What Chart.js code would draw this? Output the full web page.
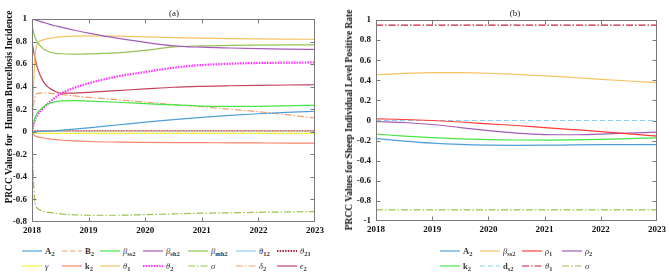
<!DOCTYPE html>
<html><head><meta charset="utf-8">
<script src="https://cdn.jsdelivr.net/npm/chart.js@4.4.1/dist/chart.umd.min.js"></script>
<style>
html,body{margin:0;padding:0;background:#fff;width:669px;height:272px;overflow:hidden;}
#wrap{position:relative;width:669px;height:272px;font-family:"Liberation Serif","Times New Roman",serif;}
canvas{position:absolute;top:0;}
#ca{left:0;} #cb{left:334px;}
.ytitle{position:absolute;font-weight:bold;font-size:9.5px;white-space:nowrap;transform:translate(-50%,-50%) rotate(-90deg);color:#111;}
.ptitle{position:absolute;font-size:9px;transform:translateX(-50%);color:#222;}
.legend{position:absolute;display:grid;row-gap:1px;font-size:8.5px;font-weight:bold;color:#333;}
.item{display:flex;align-items:center;height:14px;white-space:nowrap;}
.item svg{margin-right:3px;}
.item i{font-weight:normal;}
sub{font-size:6.5px;vertical-align:-2px;line-height:0;}
</style></head>
<body>
<div id="wrap">
  <canvas id="ca" width="334" height="240"></canvas>
  <canvas id="cb" width="335" height="240"></canvas>
  <div class="ptitle" style="left:174px;top:8px;">(a)</div>
  <div class="ptitle" style="left:515px;top:8px;">(b)</div>
  <div class="ytitle" style="left:9px;top:107px;">PRCC Values for&nbsp; Human Brucellosis Incidence</div>
  <div class="ytitle" style="left:349px;top:120px;">PRCC Values for Sheep Individual Level Positive Rate</div>
  <div class="legend" id="legA" style="left:22px;top:244px;grid-template-columns:40px 38px 43px 45px 48px 41px auto;"></div>
  <div class="legend" id="legB" style="left:440px;top:244px;grid-template-columns:40px 42px 40px auto;"></div>
</div>
<script>
// ---------- Panel (a) data ----------
const yearsA = [2018, 2018.02, 2018.05, 2018.1, 2018.2, 2018.3, 2018.4, 2018.5, 2018.75, 2019, 2019.5, 2020, 2020.5, 2021, 2021.5, 2022, 2022.5, 2023];
const A2_a   = [0, 0, 0, 0.002, 0.004, 0.006, 0.009, 0.013, 0.023, 0.035, 0.06, 0.085, 0.107, 0.127, 0.145, 0.16, 0.172, 0.182];
const B2_a   = [0, 0.004, 0.006, 0.006, 0.006, 0.006, 0.006, 0.006, 0.006, 0.006, 0.006, 0.006, 0.006, 0.006, 0.006, 0.006, 0.006, 0.006];
const bss2_a = [0, 0.06, 0.12, 0.17, 0.22, 0.25, 0.265, 0.272, 0.276, 0.272, 0.262, 0.25, 0.238, 0.228, 0.225, 0.226, 0.23, 0.235];
const bsh2_a = [1, 0.997, 0.993, 0.985, 0.97, 0.955, 0.94, 0.93, 0.9, 0.875, 0.83, 0.793, 0.762, 0.75, 0.743, 0.737, 0.733, 0.73];
const bmh2_a = [0.95, 0.9, 0.84, 0.79, 0.735, 0.71, 0.698, 0.692, 0.688, 0.69, 0.7, 0.722, 0.752, 0.762, 0.767, 0.769, 0.77, 0.77];
const th12_a = [0, 0.003, 0.003, 0.003, 0.003, 0.003, 0.003, 0.003, 0.003, 0.003, 0.003, 0.003, 0.003, 0.003, 0.003, 0.003, 0.003, 0.003];
const th21_a = [0, 0.008, 0.008, 0.008, 0.008, 0.008, 0.008, 0.008, 0.008, 0.008, 0.008, 0.008, 0.008, 0.008, 0.008, 0.008, 0.008, 0.008];
const gam_a  = [0, -0.012, -0.014, -0.015, -0.015, -0.015, -0.015, -0.015, -0.015, -0.015, -0.015, -0.015, -0.015, -0.015, -0.015, -0.015, -0.015, -0.015];
const k2_a   = [0, -0.02, -0.035, -0.045, -0.055, -0.063, -0.068, -0.073, -0.081, -0.086, -0.091, -0.094, -0.096, -0.097, -0.098, -0.099, -0.1, -0.1];
const th1_a  = [0, 0.3, 0.65, 0.78, 0.815, 0.828, 0.836, 0.842, 0.848, 0.85, 0.848, 0.842, 0.835, 0.83, 0.826, 0.823, 0.821, 0.82];
const th2_a  = [0, 0.05, 0.1, 0.15, 0.21, 0.26, 0.3, 0.335, 0.39, 0.43, 0.49, 0.53, 0.568, 0.592, 0.603, 0.61, 0.613, 0.615];
const sig_a  = [0, -0.35, -0.62, -0.68, -0.705, -0.715, -0.722, -0.728, -0.736, -0.74, -0.74, -0.735, -0.728, -0.722, -0.718, -0.714, -0.711, -0.708];
const del2_a = [0, 0.2, 0.3, 0.34, 0.345, 0.342, 0.337, 0.332, 0.318, 0.305, 0.285, 0.262, 0.242, 0.222, 0.2, 0.178, 0.152, 0.122];
const eps2_a = [0.8, 0.74, 0.66, 0.56, 0.445, 0.39, 0.36, 0.343, 0.343, 0.35, 0.365, 0.38, 0.395, 0.403, 0.408, 0.412, 0.415, 0.417];
const xTicks = [2018, 2019, 2020, 2021, 2022, 2023];
const yTicksA = [-0.8, -0.6, -0.4, -0.2, 0, 0.2, 0.4, 0.6, 0.8, 1];

// ---------- Panel (b) data ----------
const yearsB = [2018, 2018.5, 2019, 2019.5, 2020, 2020.5, 2021, 2021.5, 2022, 2022.5, 2023];
const A2_b   = [-0.18, -0.205, -0.225, -0.238, -0.245, -0.247, -0.246, -0.243, -0.241, -0.24, -0.241];
const bss2_b = [0.455, 0.468, 0.477, 0.476, 0.47, 0.459, 0.445, 0.428, 0.41, 0.393, 0.377];
const rho1_b = [0.017, 0.01, 0.0, -0.015, -0.033, -0.05, -0.07, -0.09, -0.11, -0.133, -0.155];
const rho2_b = [-0.01, -0.02, -0.04, -0.07, -0.1, -0.125, -0.14, -0.142, -0.135, -0.125, -0.115];
const k2_b   = [-0.135, -0.155, -0.17, -0.182, -0.19, -0.194, -0.195, -0.192, -0.187, -0.18, -0.172];
const ds2_b  = [0, 0, 0, 0, 0, 0, 0, 0, 0, 0, 0];
const th1_b  = [0.95, 0.95, 0.95, 0.95, 0.95, 0.95, 0.95, 0.95, 0.95, 0.95, 0.95];
const sig_b  = [-0.89, -0.89, -0.89, -0.89, -0.89, -0.89, -0.89, -0.89, -0.89, -0.89, -0.89];
const yTicksB = [-1, -0.8, -0.6, -0.4, -0.2, 0, 0.2, 0.4, 0.6, 0.8, 1];

// ---------- names & styles ----------
const namesA = ['A2','B2','βss2','βsh2','βmh2','θ12','θ21','γ','k2','θ1','θ2','σ','δ2','ϵ2'];
const htmlA = ['A<sub>2</sub>','B<sub>2</sub>','<i>β</i><sub>ss2</sub>','<i>β</i><sub>sh2</sub>','<i>β</i><sub>mh2</sub>','<i>θ</i><sub>12</sub>','<i>θ</i><sub>21</sub>','<i>γ</i>','k<sub>2</sub>','<i>θ</i><sub>1</sub>','<i>θ</i><sub>2</sub>','<i>σ</i>','<i>δ</i><sub>2</sub>','<i>ϵ</i><sub>2</sub>'];
const valuesA = [A2_a, B2_a, bss2_a, bsh2_a, bmh2_a, th12_a, th21_a, gam_a, k2_a, th1_a, th2_a, sig_a, del2_a, eps2_a];
const colorsA = ['#4f9fd8','#f5a072','#45e645','#a55cb8','#92c251','#8ecff3','#b3283c','#f0f03c','#f7876b','#f5c262','#ff30ff','#9cc24c','#f5a070','#c2425c'];
const dashesA = [[],[5,3],[],[],[],[],[1.5,1.2],[],[],[],[1.5,1.2],[7,2,1.5,2],[7,2,1.5,2],[]];
const widthsA = [1.2,1.2,1.2,1.2,1.2,1.2,1.8,1.2,1.2,1.2,2.2,1.2,1.2,1.2];

const namesB = ['A2','βss2','ρ1','ρ2','k2','ds2','θ1','σ'];
const htmlB = ['A<sub>2</sub>','<i>β</i><sub>ss2</sub>','<i>ρ</i><sub>1</sub>','<i>ρ</i><sub>2</sub>','k<sub>2</sub>','d<sub>s2</sub>','<i>θ</i><sub>1</sub>','<i>σ</i>'];
const valuesB = [A2_b, bss2_b, rho1_b, rho2_b, k2_b, ds2_b, th1_b, sig_b];
const colorsB = ['#4f9fd8','#f5c262','#ff3c3c','#a55cb8','#45e645','#8ecff3','#c2203c','#9cc24c'];
const dashesB = [[],[],[],[],[],[5,3],[7,2,1.5,2],[7,2,1.5,2]];
const widthsB = [1.2,1.2,1.2,1.2,1.2,1.2,1.2,1.2];

const tickFont = {family:'"Liberation Serif","Times New Roman",serif', weight:'bold', size:9};
const fmt = v => String(parseFloat(Number(v).toFixed(1)));

const framePlugin = {
  id:'frame',
  afterDatasetsDraw(chart){
    const {ctx, chartArea:a, scales:{x,y}} = chart;
    const L = Math.round(a.left)+0.5, R = Math.round(a.right)-0.5, T = Math.round(a.top)+0.5, B = Math.round(a.bottom)-0.5;
    ctx.save();
    ctx.strokeStyle = '#7a7a7a'; ctx.lineWidth = 1; ctx.setLineDash([]);
    ctx.strokeRect(L, T, R-L, B-T);
    ctx.beginPath();
    x.ticks.forEach(t=>{ if(t.value===x.min||t.value===x.max) return; const px=Math.round(x.getPixelForValue(t.value))+0.5; ctx.moveTo(px,B); ctx.lineTo(px,B-4); ctx.moveTo(px,T); ctx.lineTo(px,T+4); });
    y.ticks.forEach(t=>{ if(t.value===y.min||t.value===y.max) return; const py=Math.round(y.getPixelForValue(t.value))+0.5; ctx.moveTo(L,py); ctx.lineTo(L+4,py); ctx.moveTo(R,py); ctx.lineTo(R-4,py); });
    ctx.stroke();
    ctx.restore();
  }
};

function makeChart(id, xs, vals, names, colors, dashes, widths, yMin, yMax, yTicks, pad, yw, xh){
  return new Chart(document.getElementById(id), {
    type:'line',
    data:{datasets: vals.map((v,i)=>({
      label:names[i], data: xs.map((x,j)=>({x:x, y:v[j]})),
      borderColor:colors[i], borderDash:dashes[i], borderWidth:widths[i],
      pointRadius:0, fill:false, cubicInterpolationMode:'monotone'
    }))},
    options:{
      responsive:false, animation:false, devicePixelRatio:1,
      layout:{padding:pad},
      plugins:{legend:{display:false}, tooltip:{enabled:false}, title:{display:false}},
      scales:{
        x:{type:'linear', min:2018, max:2023,
           grid:{display:false, drawTicks:false}, border:{display:false},
           afterBuildTicks:s=>{ s.ticks = xTicks.map(v=>({value:v})); },
           afterFit:s=>{ s.height = xh; },
           ticks:{padding:3, font:tickFont, color:'#111', maxRotation:0, autoSkip:false, callback:v=>String(v)}},
        y:{type:'linear', min:yMin, max:yMax,
           grid:{display:false, drawTicks:false}, border:{display:false},
           afterBuildTicks:s=>{ s.ticks = yTicks.map(v=>({value:v})); },
           afterFit:s=>{ s.width = yw; },
           ticks:{padding:5, font:tickFont, color:'#111', autoSkip:false, callback:v=>fmt(v)}}
      }
    },
    plugins:[framePlugin]
  });
}

makeChart('ca', yearsA, valuesA, namesA, colorsA, dashesA, widthsA, -0.8, 1, yTicksA, {top:19,right:19,left:0,bottom:0}, 32, 18);
makeChart('cb', yearsB, valuesB, namesB, colorsB, dashesB, widthsB, -1, 1, yTicksB, {top:20,right:11,left:0,bottom:0}, 42, 19);

function buildLegend(elId, html, colors, dashes, widths){
  const el = document.getElementById(elId);
  html.forEach((h,i)=>{
    const d = document.createElement('div'); d.className='item';
    const da = dashes[i].length ? `stroke-dasharray="${dashes[i].join(' ')}"` : '';
    d.innerHTML = `<svg width="20" height="6"><line x1="0" y1="3" x2="20" y2="3" stroke="${colors[i]}" stroke-width="${Math.min(widths[i],1.8)}" ${da}/></svg><span>${h}</span>`;
    el.appendChild(d);
  });
}
buildLegend('legA', htmlA, colorsA, dashesA, widthsA);
buildLegend('legB', htmlB, colorsB, dashesB, widthsB);
</script>
</body></html>
